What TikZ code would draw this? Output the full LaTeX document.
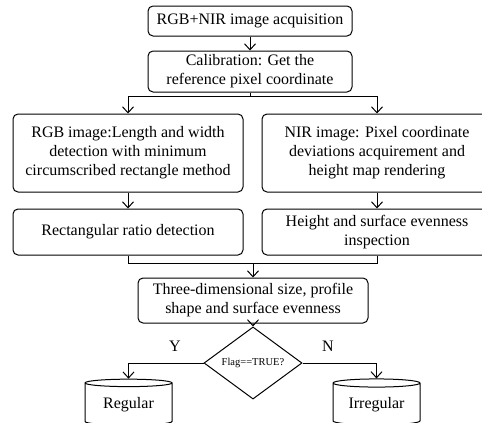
\documentclass[tikz,border=0pt]{standalone}
\usepackage{fontspec}
\setmainfont{Liberation Serif}
\usetikzlibrary{shapes.geometric,arrows.meta}
\begin{document}
\begin{tikzpicture}[x=1pt, y=-1pt, line width=1pt,
    >={Straight Barb[length=6pt,width=11pt]},
    box/.style={draw, rounded corners=5pt, align=center, inner sep=1pt,
      font=\fontsize{16}{19}\selectfont},
    decision/.style={draw, diamond, inner sep=0pt, minimum width=98pt,
      minimum height=47pt, font=\fontsize{10.5}{12}\selectfont},
    store/.style={draw, cylinder, shape border rotate=90, aspect=0.13,
      minimum width=87pt, minimum height=46pt, font=\fontsize{16}{19}\selectfont},
    tag/.style={font=\fontsize{16}{19}\selectfont}]
        \useasboundingbox (0,0) rectangle (482,423);
        \clip (0,0) rectangle (482,423);
        \node[box, minimum width=204pt, minimum height=30pt] (acq) at (250,21) {RGB+NIR image acquisition};
        \node[box, minimum width=204pt, minimum height=41pt] (cal) at (250,71.5) {Calibration: Get the\\reference pixel coordinate};
        \node[box, minimum width=230pt, minimum height=78pt] (rgb) at (128,153) {RGB image:Length and width\\detection with minimum\\circumscribed rectangle method};
        \node[box, minimum width=230pt, minimum height=78pt] (nir) at (377,153) {NIR image: Pixel coordinate\\deviations acquirement and\\height map rendering};
        \node[box, minimum width=230pt, minimum height=46pt] (ratio) at (128,232) {Rectangular ratio detection};
        \node[box, minimum width=230pt, minimum height=46pt] (height) at (377,232) {Height and surface evenness\\inspection};
        \node[box, minimum width=230pt, minimum height=45pt] (size) at (253,300.5) {Three-dimensional size, profile\\shape and surface evenness};
        \node[decision] (flag) at (253,363) {Flag==TRUE?};
        \node[store] (reg) at (128.5,405) {Regular};
        \node[store] (irr) at (376.5,405) {Irregular};
        \node[tag] (y) at (175,346) {Y};
        \node[tag] (n) at (328,346) {N};
        \coordinate (split) at (250,96);
        \coordinate (merge) at (253,263);
        \draw[->] (acq) -- (cal);
        \draw (cal) -- (split);
        \draw[->] (split) -| (rgb);
        \draw[->] (split) -| (nir);
        \draw[->] (rgb) -- (ratio);
        \draw[->] (nir) -- (height);
        \draw (ratio) |- (merge);
        \draw (height) |- (merge);
        \draw[->] (merge) -- (size);
        \draw[->] (size) -- (flag);
        \draw[->] (flag) -| (reg);
        \draw[->] (flag) -| (irr);
      \end{tikzpicture}
\end{document}
